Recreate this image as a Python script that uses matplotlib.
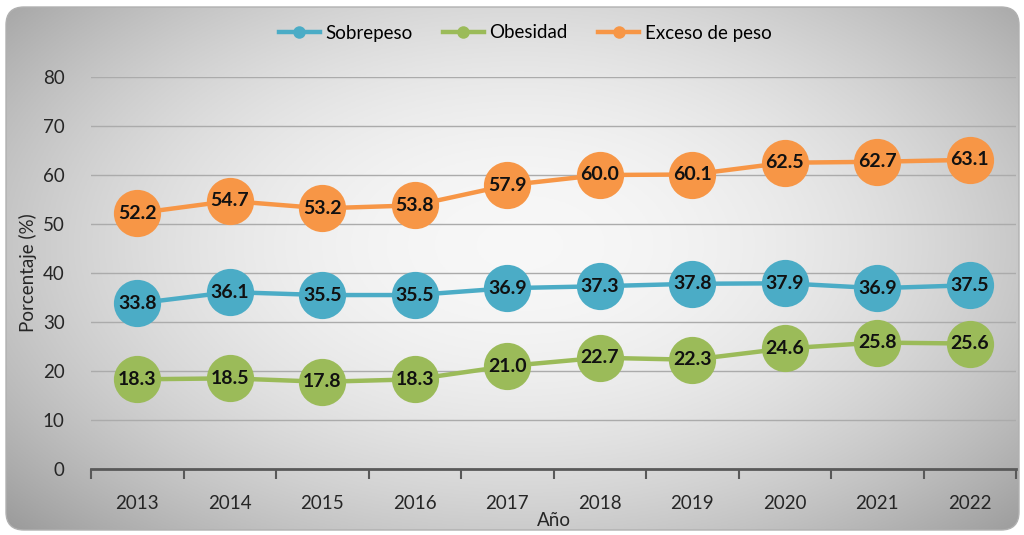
import numpy as np
import matplotlib
matplotlib.use("Agg")
import matplotlib.pyplot as plt
from matplotlib.patches import FancyBboxPatch
from matplotlib.lines import Line2D

years = ["2013", "2014", "2015", "2016", "2017", "2018", "2019", "2020", "2021", "2022"]
sobrepeso = [33.8, 36.1, 35.5, 35.5, 36.9, 37.3, 37.8, 37.9, 36.9, 37.5]
obesidad = [18.3, 18.5, 17.8, 18.3, 21.0, 22.7, 22.3, 24.6, 25.8, 25.6]
exceso = [52.2, 54.7, 53.2, 53.8, 57.9, 60.0, 60.1, 62.5, 62.7, 63.1]
series_names = ["Sobrepeso", "Obesidad", "Exceso de peso"]
colors = ["#4BACC6", "#9BBB59", "#F79646"]
yticks = [0, 10, 20, 30, 40, 50, 60, 70, 80]

plt.rcParams['font.family'] = ['Lato', 'DejaVu Sans']

W, H = 1024, 535
fig = plt.figure(figsize=(W / 100, H / 100), dpi=100, facecolor="white")

# background with radial gradient, rounded frame
bg = fig.add_axes([0, 0, 1, 1], zorder=-10)
bg.set_xlim(0, W)
bg.set_ylim(0, H)
bg.axis("off")
xx, yy = np.meshgrid(np.linspace(0, W, 400), np.linspace(0, H, 220))
r = np.sqrt(((xx - 520) / 560) ** 2 + ((yy - 290) / 330) ** 2)
val = np.clip(0.97 - 0.23 * r ** 2, 0, 1)
img = np.dstack([val, val, val])
im = bg.imshow(img, extent=[0, W, 0, H], origin="lower", aspect="auto", zorder=0)
frame = FancyBboxPatch((6, 5), 1013, 523, boxstyle="round,pad=0,rounding_size=18",
                       facecolor="none", edgecolor="#b0b0b0", linewidth=1.0,
                       transform=bg.transData, zorder=1)
bg.add_patch(frame)
im.set_clip_path(frame)

ax = fig.add_axes([91 / W, 1 - 469 / H, (1016 - 91) / W, (469 - 77) / H])
ax.set_facecolor("none")
x = np.arange(len(years))
ax.set_xlim(-0.5, len(years) - 0.5)
ax.set_ylim(0, 80)
ax.set_yticks(yticks)
ax.set_yticklabels([str(v) for v in yticks], fontsize=13.5, color="#262626")
ax.tick_params(axis="y", length=0, pad=19)
ax.set_xticks(x)
ax.set_xticklabels(years, fontsize=13.5, color="#262626")
ax.set_xticks(np.arange(-0.5, len(years), 1.0), minor=True)
ax.tick_params(axis="x", which="major", length=0, pad=19)
ax.tick_params(axis="x", which="minor", length=7, width=1.5, color="#595959", direction="out")
ax.grid(axis="y", color="#ababab", linewidth=1.0)
ax.set_axisbelow(True)
for s in ["left", "right", "top"]:
    ax.spines[s].set_visible(False)
ax.spines["bottom"].set_color("#595959")
ax.spines["bottom"].set_linewidth(2.0)
ax.spines["bottom"].set_zorder(5)

for vals, c in zip([sobrepeso, obesidad, exceso], colors):
    ax.plot(x, vals, color=c, linewidth=3.2, marker="o", markersize=34,
            markeredgewidth=0, clip_on=False, zorder=3)
    for xi, v in zip(x, vals):
        ax.text(xi, v, f"{v:.1f}", ha="center", va="center", fontsize=14,
                fontweight="bold", color="#111111", zorder=4)

ax.set_xlabel("Año", fontsize=13.5, color="#262626", labelpad=0)
ax.set_ylabel("Porcentaje (%)", fontsize=13.5, color="#262626", labelpad=4)

handles = [Line2D([0], [0], color=c, linewidth=3.2, marker="o", markersize=9,
                  markeredgewidth=0) for c in colors]
fig.legend(handles, series_names, loc="center", bbox_to_anchor=(525 / W, 1 - 33 / H),
           ncol=3, frameon=False, fontsize=13.5, handlelength=2.2, handletextpad=0.3,
           columnspacing=1.6)

fig.savefig("out.png", dpi=100, facecolor="white")
